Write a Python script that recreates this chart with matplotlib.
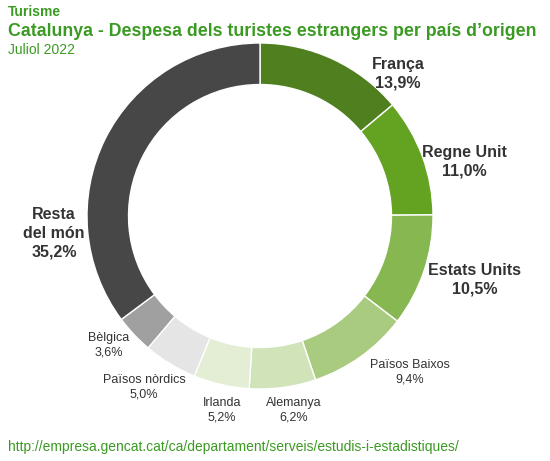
import matplotlib
matplotlib.use("Agg")
import matplotlib.pyplot as plt

countries = ["França", "Regne Unit", "Estats Units", "Països Baixos", "Alemanya",
             "Irlanda", "Països nòrdics", "Bèlgica", "Resta\ndel món"]
values = [13.9, 11.0, 10.5, 9.4, 6.2, 5.2, 5.0, 3.6, 35.2]
colors = ["#4f7f1f", "#63a321", "#87b751", "#a9cb80", "#d1e3b9", "#e3eed5",
          "#e5e5e5", "#a0a0a0", "#474747"]
big = [True, True, True, False, False, False, False, False, True]
label_px = [(398, 74), (464, 162), (475, 280), (410, 372), (294, 410),
            (222, 410), (144, 387), (109, 345), (54, 233)]

W, H = 550, 461
fig = plt.figure(figsize=(W/100, H/100), dpi=100)
cx, cy, R = 260, 216, 173
ax = fig.add_axes([(cx-R)/W, (H-cy-R)/H, 2*R/W, 2*R/H])
ax.pie(values, colors=colors, startangle=90, counterclock=False, radius=1,
       wedgeprops=dict(width=0.24, edgecolor="white", linewidth=1))
ax.set_xlim(-1, 1); ax.set_ylim(-1, 1); ax.set_aspect("equal"); ax.axis("off")

for name, v, b, (px, py) in zip(countries, values, big, label_px):
    txt = f"{name}\n{v:.1f}%".replace(".", ",")
    fig.text(px/W, 1-py/H, txt, ha="center", va="center", linespacing=1.3,
             fontsize=11.5 if b else 9, fontweight="bold" if b else "normal",
             color="#333333", family="Liberation Sans")

green = "#3a9a22"
fig.text(8/W, 1-12/H, "Turisme", fontsize=10, fontweight="bold", color=green,
         va="center", family="Liberation Sans")
fig.text(8/W, 1-32/H, "Catalunya - Despesa dels turistes estrangers per país d’origen",
         fontsize=12.8, fontweight="bold", color=green, va="center", family="Liberation Sans")
fig.text(8/W, 1-50/H, "Juliol 2022", fontsize=10, color=green, va="center",
         family="Liberation Sans")
fig.text(8/W, 1-447/H, "http://empresa.gencat.cat/ca/departament/serveis/estudis-i-estadistiques/",
         fontsize=10, color=green, va="center", family="Liberation Sans")

fig.savefig("out.png", dpi=100)
